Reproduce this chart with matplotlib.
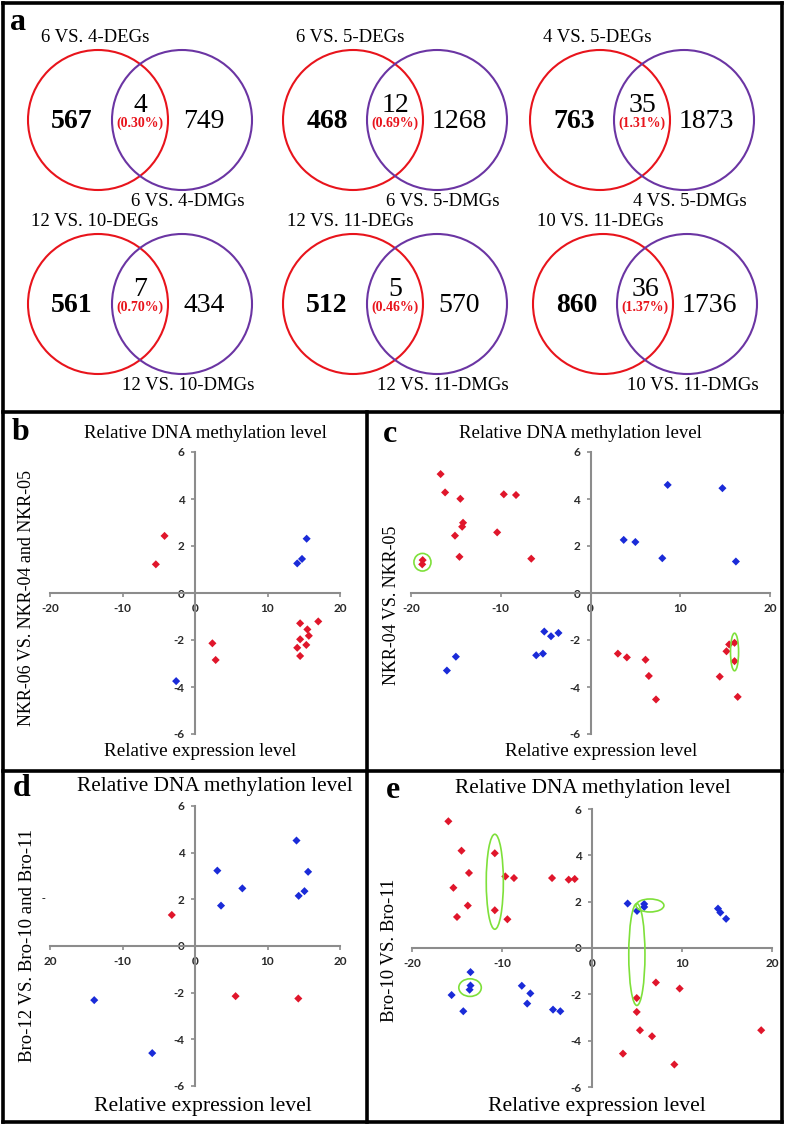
import matplotlib
matplotlib.use('Agg')
import matplotlib.pyplot as plt
from matplotlib.patches import Circle, Ellipse
import numpy as np

# ---------------- data ----------------
venn_deg_labels = ["6 VS. 4-DEGs", "6 VS. 5-DEGs", "4 VS. 5-DEGs",
                   "12 VS. 10-DEGs", "12 VS. 11-DEGs", "10 VS. 11-DEGs"]
venn_dmg_labels = ["6 VS. 4-DMGs", "6 VS. 5-DMGs", "4 VS. 5-DMGs",
                   "12 VS. 10-DMGs", "12 VS. 11-DMGs", "10 VS. 11-DMGs"]
venn_deg_only = [567, 468, 763, 561, 512, 860]
venn_overlap = [4, 12, 35, 7, 5, 36]
venn_dmg_only = [749, 1268, 1873, 434, 570, 1736]
venn_pct = ["0.30%", "0.69%", "1.31%", "0.70%", "0.46%", "1.37%"]

x_ticks = [-20, -10, 0, 10, 20]
x_ticklabels_std = ["-20", "-10", "0", "10", "20"]
x_ticklabels_d = ["20", "-10", "0", "10", "20"]
y_ticks = [-6, -4, -2, 0, 2, 4, 6]

# panel b
b_red_x = [-4.2, -5.4, 2.4, 2.85, 14.5, 17.0, 15.5, 15.7, 14.5, 15.35, 14.1, 14.5]
b_red_y = [2.43, 1.22, -2.14, -2.85, -1.29, -1.21, -1.55, -1.82, -1.97, -2.21, -2.33, -2.68]
b_blue_x = [15.4, 14.76, 14.1, -2.6]
b_blue_y = [2.31, 1.45, 1.26, -3.75]

# panel c
c_red_x = [-16.7, -16.2, -14.5, -14.2, -14.3, -15.1, -14.6, -9.66, -8.3, -10.4, -6.6,
           -18.7, -18.75, 3.05, 4.05, 6.13, 6.5, 7.3, 14.4, 15.15, 15.45, 16.05, 16.05, 16.4]
c_red_y = [5.06, 4.28, 4.01, 2.99, 2.82, 2.44, 1.54, 4.2, 4.17, 2.58, 1.46,
           1.4, 1.22, -2.58, -2.74, -2.84, -3.53, -4.53, -3.56, -2.48, -2.19, -2.12, -2.9, -4.42]
c_blue_x = [8.6, 14.7, 3.7, 5.0, 8.0, 16.2, -16.0, -15.0, -6.05, -5.3, -5.15, -4.4, -3.57]
c_blue_y = [4.6, 4.46, 2.26, 2.17, 1.48, 1.34, -3.3, -2.71, -2.65, -2.58, -1.64, -1.84, -1.7]

# panel d
d_red_x = [-3.2, 5.6, 14.25]
d_red_y = [1.33, -2.15, -2.25]
d_blue_x = [3.08, 3.59, 6.53, 15.6, 15.1, 14.3, 14.0, -13.9, -5.9]
d_blue_y = [3.23, 1.73, 2.47, 3.18, 2.35, 2.15, 4.52, -2.32, -4.59]

# panel e
e_red_x = [-15.96, -14.5, -13.67, -15.4, -15.0, -13.8, -10.8, -10.8, -9.63, -8.67, -9.4,
           -4.44, -2.59, -1.92, 4.97, 4.97, 5.33, 6.67, 3.44, 7.1, 9.74, 9.15, 18.8]
e_red_y = [5.47, 4.2, 3.24, 2.6, 1.34, 1.83, 4.09, 1.63, 3.09, 3.02, 1.24,
           3.02, 2.95, 2.98, -2.16, -2.76, -3.55, -3.81, -4.56, -1.49, -1.75, -5.03, -3.55]
e_blue_x = [3.96, 5.0, 5.8, 5.8, 14.0, 14.26, 14.9, -15.6, -14.3, -13.5, -13.5, -13.6,
            -7.8, -6.85, -7.2, -4.33, -3.52]
e_blue_y = [1.92, 1.6, 1.9, 1.77, 1.7, 1.53, 1.26, -2.03, -2.73, -1.04, -1.62, -1.8,
            -1.63, -1.96, -2.4, -2.66, -2.73]

# ---------------- styles ----------------
W, H = 787, 1125
SERIF = 'Liberation Serif'
TICKFONT = 'Lato'
RED = '#e0162b'
BLUE = '#1a2bd8'
VRED = '#e8141c'
VPURPLE = '#6b35a3'
GREEN = '#7ee03a'
AXGREY = '#8c8c8c'

fig = plt.figure(figsize=(W / 100, H / 100), dpi=100)
fig.patch.set_facecolor('white')

ov = fig.add_axes([0, 0, 1, 1])
ov.set_xlim(0, W)
ov.set_ylim(H, 0)
ov.axis('off')

# borders
bw = 2.6
def seg(x0, y0, x1, y1):
    ov.plot([x0, x1], [y0, y1], color='black', lw=bw, clip_on=False, solid_capstyle='projecting')
seg(3, 3, 782, 3)
seg(3, 3, 3, 1122)
seg(782, 3, 782, 1122)
seg(3, 412, 782, 412)
seg(3, 771, 782, 771)
seg(3, 1122, 782, 1122)
seg(367, 412, 367, 1122)

# panel letters
for s, x, y in [('a', 18, 22), ('b', 20, 433), ('c', 390, 434), ('d', 22, 788), ('e', 393, 790)]:
    ov.text(x, y, s, ha='center', va='center', fontfamily=SERIF, fontweight='bold', fontsize=23)

# ---------------- Venn diagrams ----------------
venn_red_cx = [98, 353, 600, 98, 353, 603]
venn_cy = [120, 120, 120, 304, 304, 304]
R = 70
SEP = 84
for i in range(6):
    cx, cy = venn_red_cx[i], venn_cy[i]
    px = cx + SEP
    ov.add_patch(Circle((cx, cy), R, fill=False, ec=VRED, lw=1.5))
    ov.add_patch(Circle((px, cy), R, fill=False, ec=VPURPLE, lw=1.5))
    mid = (cx + R + px - R) / 2
    ov.text(cx - 3, cy - 83, venn_deg_labels[i], ha='center', va='center',
            fontfamily=SERIF, fontsize=13.5)
    ov.text(px + 6, cy + 82, venn_dmg_labels[i], ha='center', va='center',
            fontfamily=SERIF, fontsize=13.5)
    ov.text(cx - 26, cy + 1, str(venn_deg_only[i]), ha='center', va='center',
            fontfamily=SERIF, fontsize=20, fontweight='bold')
    ov.text(px + 22, cy + 1, str(venn_dmg_only[i]), ha='center', va='center',
            fontfamily=SERIF, fontsize=20)
    ov.text(mid, cy - 14, str(venn_overlap[i]), ha='center', va='center',
            fontfamily=SERIF, fontsize=20)
    ov.text(mid, cy + 3, '(' + venn_pct[i] + ')', ha='center', va='center',
            fontfamily=SERIF, fontsize=10, fontweight='bold', color=VRED)

# ---------------- scatter panels ----------------
def make_ax(x0, x1, ytop, ybot, xtl):
    ax = fig.add_axes([x0 / W, 1 - ybot / H, (x1 - x0) / W, (ybot - ytop) / H])
    ax.set_facecolor('none')
    ax.set_xlim(-20, 20)
    ax.set_ylim(-6, 6)
    for sp in ['top', 'right']:
        ax.spines[sp].set_visible(False)
    ax.spines['left'].set_position(('data', 0))
    ax.spines['bottom'].set_position(('data', 0))
    for sp in ['left', 'bottom']:
        ax.spines[sp].set_color(AXGREY)
        ax.spines[sp].set_linewidth(1.5)
    ax.set_xticks(x_ticks)
    ax.set_xticklabels(xtl)
    ax.set_yticks(y_ticks)
    ax.set_yticklabels([str(v) for v in y_ticks])
    ax.tick_params(direction='out', length=3, width=1.2, color=AXGREY, pad=4.5,
                   labelsize=8.5, labelcolor='#2a2a2a')
    for lab in ax.get_xticklabels() + ax.get_yticklabels():
        lab.set_fontfamily(TICKFONT)
        lab.set_fontweight('bold')
    return ax

def pts(ax, xs, ys, color):
    ax.scatter(xs, ys, marker='D', s=17, color=color, edgecolors='none', zorder=3, clip_on=False)

def enclose(ax, xs, ys, w, h, dx=0.0):
    cx = float(np.mean(xs)) + dx
    cy = float(np.mean(ys))
    ax.add_patch(Ellipse((cx, cy), w, h, fill=False, ec=GREEN, lw=1.2, zorder=4, clip_on=False))

ax_b = make_ax(50, 340, 452, 734, x_ticklabels_std)
pts(ax_b, b_red_x, b_red_y, RED)
pts(ax_b, b_blue_x, b_blue_y, BLUE)

ax_c = make_ax(411, 770, 452, 734, x_ticklabels_std)
pts(ax_c, c_red_x, c_red_y, RED)
pts(ax_c, c_blue_x, c_blue_y, BLUE)
enclose(ax_c, c_red_x[11:13], c_red_y[11:13], 1.9, 0.75)
enclose(ax_c, c_red_x[21:23], c_red_y[21:23], 0.9, 1.6)

ax_d = make_ax(50, 340, 806, 1086, x_ticklabels_d)
pts(ax_d, d_red_x, d_red_y, RED)
pts(ax_d, d_blue_x, d_blue_y, BLUE)

ax_e = make_ax(412, 772, 809, 1087, x_ticklabels_std)
pts(ax_e, e_red_x, e_red_y, RED)
pts(ax_e, e_blue_x, e_blue_y, BLUE)
enclose(ax_e, e_red_x[6:8], e_red_y[6:8], 1.9, 4.1)
enclose(ax_e, e_blue_x[2:4], e_blue_y[2:4], 3.1, 0.56, dx=0.64)
enclose(ax_e, [e_blue_x[1], e_red_x[14]], [e_blue_y[1], e_red_y[14]], 1.8, 4.4)
enclose(ax_e, e_blue_x[10:12], e_blue_y[10:12], 2.5, 0.76)

# titles / axis labels
ov.text(205, 433, 'Relative DNA methylation level', ha='center', va='center', fontfamily=SERIF, fontsize=13.5)
ov.text(580, 433, 'Relative DNA methylation level', ha='center', va='center', fontfamily=SERIF, fontsize=13.5)
ov.text(215, 787, 'Relative DNA methylation level', ha='center', va='center', fontfamily=SERIF, fontsize=15.3)
ov.text(593, 789, 'Relative DNA methylation level', ha='center', va='center', fontfamily=SERIF, fontsize=15.3)

ov.text(200, 752, 'Relative expression level', ha='center', va='center', fontfamily=SERIF, fontsize=13.8)
ov.text(601, 752, 'Relative expression level', ha='center', va='center', fontfamily=SERIF, fontsize=13.8)
ov.text(203, 1106, 'Relative expression level', ha='center', va='center', fontfamily=SERIF, fontsize=15.6)
ov.text(597, 1106, 'Relative expression level', ha='center', va='center', fontfamily=SERIF, fontsize=15.6)

ov.text(27, 598, 'NKR-06 VS. NKR-04 and NKR-05', ha='center', va='center', rotation=90, fontfamily=SERIF, fontsize=13)
ov.text(391, 605, 'NKR-04 VS. NKR-05', ha='center', va='center', rotation=90, fontfamily=SERIF, fontsize=13)
ov.text(28, 945, 'Bro-12 VS. Bro-10 and Bro-11', ha='center', va='center', rotation=90, fontfamily=SERIF, fontsize=13.5)
ov.text(389, 950, 'Bro-10 VS. Bro-11', ha='center', va='center', rotation=90, fontfamily=SERIF, fontsize=13.5)
ov.text(43, 899, '-', ha='center', va='center', fontfamily=SERIF, fontsize=8)

fig.savefig('out.png', dpi=100)
